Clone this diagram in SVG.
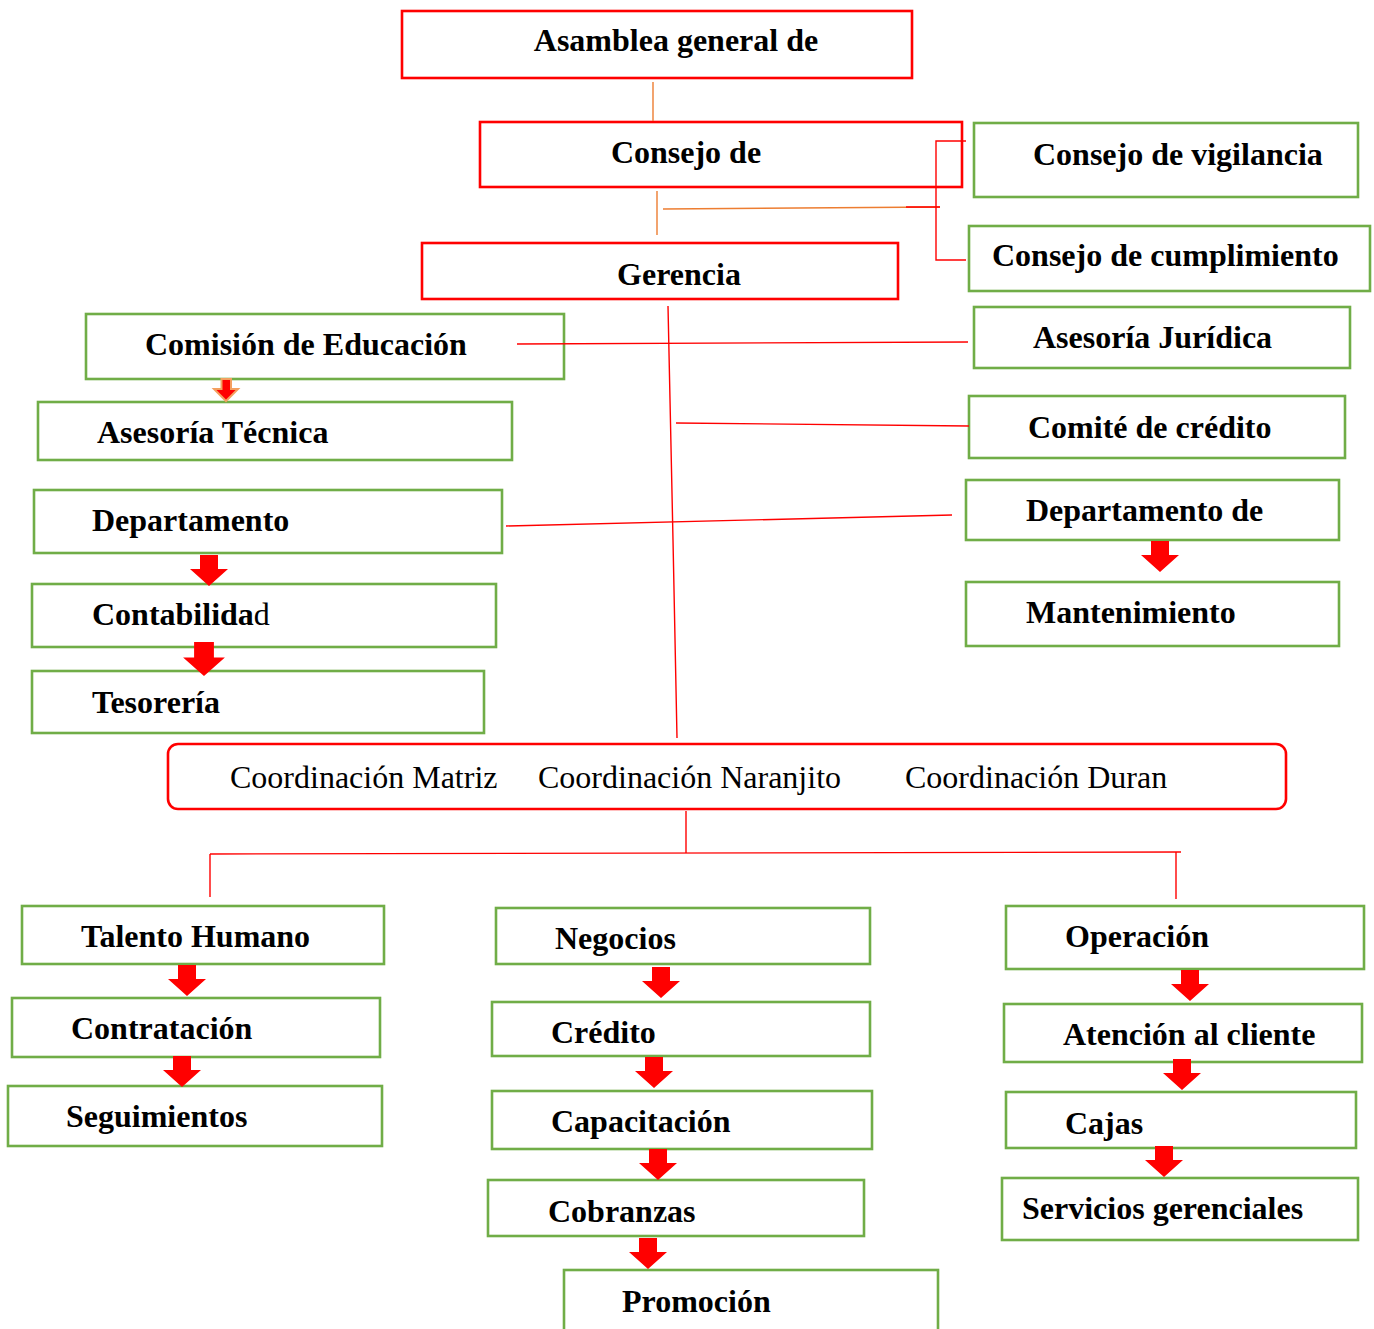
<svg xmlns="http://www.w3.org/2000/svg" width="1374" height="1329" viewBox="0 0 1374 1329">
<style>
.r{fill:#fff;stroke:#FF0000;stroke-width:2.6}
.g{fill:#fff;stroke:#70AD47;stroke-width:2.6}
.t{font-family:"Liberation Serif","Times New Roman",serif;font-weight:bold;font-size:32px;fill:#000}
.tc{text-anchor:middle}
.n{font-family:"Liberation Serif","Times New Roman",serif;font-size:32px;fill:#000}
.c{fill:none;stroke:#FF0000;stroke-width:1.4}
.o{fill:none;stroke:#ED7D31;stroke-width:1.4}
.ar{fill:#FF0000}
</style>
<defs>
<path id="arr" d="M-9,0 H9 V14 H19 L0,31 L-19,14 H-9 Z"/>
</defs>
<rect width="1374" height="1329" fill="#fff"/>
<g id="asamblea"><rect class="r" x="402" y="11" width="510" height="67"/><text class="t tc" x="676" y="51">Asamblea general de</text></g>
<g id="consejo-admin"><rect class="r" x="480" y="122" width="482" height="65"/><text class="t tc" x="686" y="163">Consejo de</text></g>
<g id="gerencia"><rect class="r" x="422" y="243" width="476" height="56"/><text class="t tc" x="679" y="285">Gerencia</text></g>
<g id="vigilancia"><rect class="g" x="974" y="123" width="384" height="74"/><text class="t" x="1033" y="165">Consejo de vigilancia</text></g>
<g id="cumplimiento"><rect class="g" x="969" y="226" width="401" height="65"/><text class="t" x="992" y="266">Consejo de cumplimiento</text></g>
<g id="juridica"><rect class="g" x="974" y="307" width="376" height="61"/><text class="t" x="1033" y="348">Asesoría Jurídica</text></g>
<g id="comite-credito"><rect class="g" x="969" y="396" width="376" height="62"/><text class="t" x="1028" y="438">Comité de crédito</text></g>
<g id="depto-de"><rect class="g" x="966" y="480" width="373" height="60"/><text class="t" x="1026" y="521">Departamento de</text></g>
<g id="mantenimiento"><rect class="g" x="966" y="582" width="373" height="64"/><text class="t" x="1026" y="623">Mantenimiento</text></g>
<g id="educacion"><rect class="g" x="86" y="314" width="478" height="65"/><text class="t" x="145" y="355">Comisión de Educación</text></g>
<g id="asesoria-tecnica"><rect class="g" x="38" y="402" width="474" height="58"/><text class="t" x="97" y="443">Asesoría Técnica</text></g>
<g id="departamento"><rect class="g" x="34" y="490" width="468" height="63"/><text class="t" x="92" y="531">Departamento</text></g>
<g id="contabilidad"><rect class="g" x="32" y="584" width="464" height="63"/><text class="t" x="92" y="625">Contabilida<tspan font-weight="normal">d</tspan></text></g>
<g id="tesoreria"><rect class="g" x="32" y="671" width="452" height="62"/><text class="t" x="92" y="713">Tesorería</text></g>
<g id="coordinacion"><rect x="168" y="744" width="1118" height="65" rx="10" fill="#fff" stroke="#FF0000" stroke-width="2.6"/>
<text class="n" x="230" y="788">Coordinación Matriz</text>
<text class="n" x="538" y="788">Coordinación Naranjito</text>
<text class="n" x="905" y="788">Coordinación Duran</text></g>
<g id="talento"><rect class="g" x="22" y="906" width="362" height="58"/><text class="t" x="81" y="947">Talento Humano</text></g>
<g id="contratacion"><rect class="g" x="12" y="998" width="368" height="59"/><text class="t" x="71" y="1039">Contratación</text></g>
<g id="seguimientos"><rect class="g" x="8" y="1086" width="374" height="60"/><text class="t" x="66" y="1127">Seguimientos</text></g>
<g id="negocios"><rect class="g" x="496" y="908" width="374" height="56"/><text class="t" x="555" y="949">Negocios</text></g>
<g id="credito"><rect class="g" x="492" y="1002" width="378" height="54"/><text class="t" x="551" y="1043">Crédito</text></g>
<g id="capacitacion"><rect class="g" x="492" y="1091" width="380" height="58"/><text class="t" x="551" y="1132">Capacitación</text></g>
<g id="cobranzas"><rect class="g" x="488" y="1180" width="376" height="56"/><text class="t" x="548" y="1222">Cobranzas</text></g>
<g id="promocion"><rect class="g" x="564" y="1270" width="374" height="80"/><text class="t" x="622" y="1312">Promoción</text></g>
<g id="operacion"><rect class="g" x="1006" y="906" width="358" height="63"/><text class="t" x="1065" y="947">Operación</text></g>
<g id="atencion"><rect class="g" x="1004" y="1004" width="358" height="58"/><text class="t" x="1063" y="1045">Atención al cliente</text></g>
<g id="cajas"><rect class="g" x="1006" y="1092" width="350" height="56"/><text class="t" x="1065" y="1134">Cajas</text></g>
<g id="servicios"><rect class="g" x="1002" y="1178" width="356" height="62"/><text class="t" x="1022" y="1219">Servicios gerenciales</text></g>
<g id="connectors">
<line class="o" x1="653" y1="82" x2="653" y2="121"/>
<line class="o" x1="657" y1="191" x2="657" y2="235"/>
<line class="o" x1="663" y1="209" x2="940" y2="207"/>
<line class="c" x1="906" y1="207" x2="940" y2="207"/>
<polyline class="c" points="966,141 936,141 936,260 966,260"/>
<polyline class="c" points="668,306 673,540 677,738"/>
<line class="c" x1="517" y1="344" x2="968" y2="342"/>
<line class="c" x1="676" y1="423" x2="969" y2="426"/>
<line class="c" x1="506" y1="526" x2="952" y2="515"/>
<line class="c" x1="686" y1="811" x2="686" y2="853"/>
<line class="c" x1="210" y1="854" x2="1181" y2="852"/>
<line class="c" x1="210" y1="854" x2="210" y2="897"/>
<line class="c" x1="1176" y1="852" x2="1176" y2="899"/>
<path d="M221.5,379 H231 V389 H238 L226,401 L214,389 H221.5 Z" fill="#FF0000" stroke="#F4A060" stroke-width="2"/>
<use href="#arr" class="ar" x="1160" y="541"/>
<use href="#arr" class="ar" x="209" y="555"/>
<use href="#arr" class="ar" transform="translate(204,642) scale(1.1)"/>
<use href="#arr" class="ar" x="187" y="965"/>
<use href="#arr" class="ar" x="182" y="1056"/>
<use href="#arr" class="ar" x="661" y="967"/>
<use href="#arr" class="ar" x="654" y="1057"/>
<use href="#arr" class="ar" x="658" y="1149"/>
<use href="#arr" class="ar" x="648" y="1238"/>
<use href="#arr" class="ar" x="1190" y="970"/>
<use href="#arr" class="ar" x="1182" y="1059"/>
<use href="#arr" class="ar" x="1164" y="1146"/>
</g>
</svg>
